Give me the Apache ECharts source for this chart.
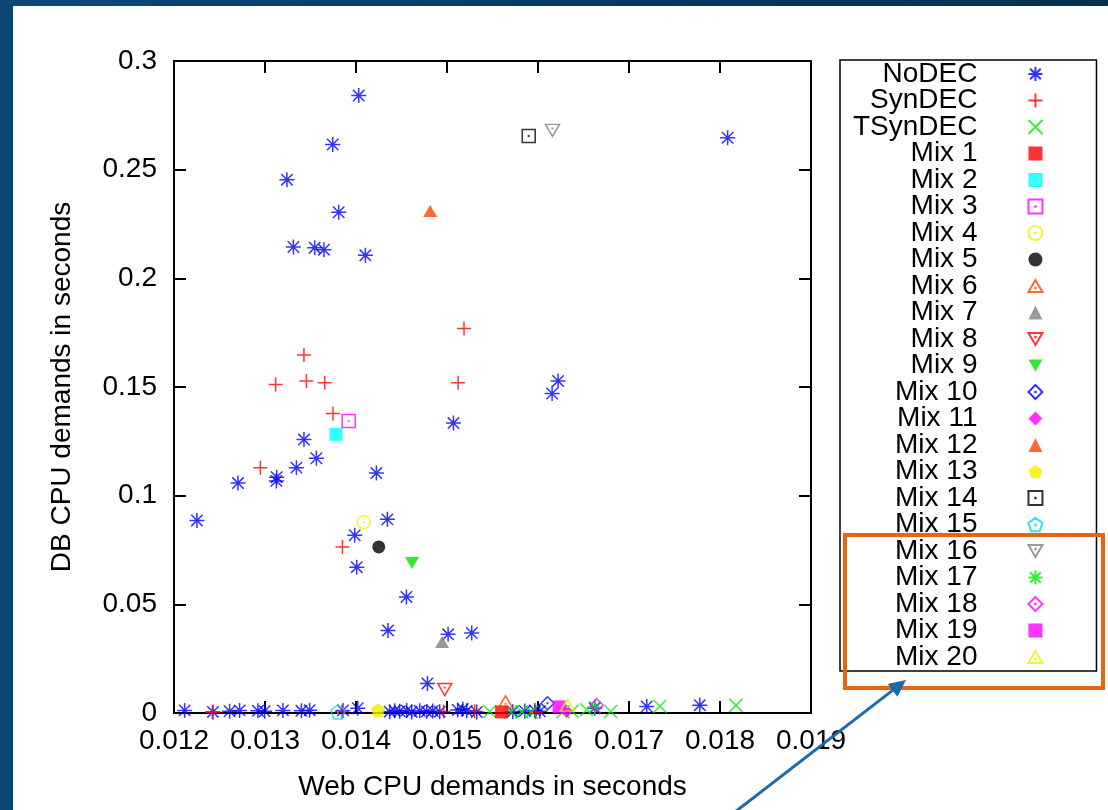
<!DOCTYPE html>
<html>
<head>
<meta charset="utf-8">
<title>Web CPU vs DB CPU demands</title>
<script src="https://cdn.jsdelivr.net/npm/echarts@6/dist/echarts.min.js"></script>
<style>
    html, body { margin: 0; padding: 0; }
    body {
        width: 1108px; height: 810px; position: relative; overflow: hidden;
        background: linear-gradient(90deg, #0d4874, #07375c 60%, #05304f);
    }
    #panel { position: absolute; left: 13px; top: 6px; right: 0; bottom: 0; background: #fff; }
    #main { position: absolute; left: 0; top: 0; width: 1108px; height: 810px; }
</style>
</head>
<body>
<div id="panel"></div>
<div id="main"></div>
<script>
    // [web cpu demand (s), db cpu demand (s)]
    var noDEC = [
        [0.012252, 0.0886], [0.012703, 0.1058], [0.013125, 0.1068], [0.013128, 0.1085],
        [0.013345, 0.1129], [0.013428, 0.1258], [0.013565, 0.1172], [0.014224, 0.1104],
        [0.014345, 0.0891], [0.013986, 0.0818], [0.014008, 0.0671], [0.014554, 0.0534],
        [0.014352, 0.0380], [0.015012, 0.0362], [0.015272, 0.0368], [0.014785, 0.0136],
        [0.015071, 0.1334], [0.014030, 0.2841], [0.013744, 0.2616], [0.013241, 0.2454],
        [0.013810, 0.2304], [0.013312, 0.2144], [0.013546, 0.2141], [0.013648, 0.2132],
        [0.014103, 0.2106], [0.018084, 0.2647], [0.016221, 0.1528], [0.016155, 0.1470],
        [0.012117, 0.0012], [0.012428, 0.0005], [0.012611, 0.0008], [0.012721, 0.0012],
        [0.012922, 0.0010], [0.012996, 0.0008], [0.013197, 0.0012], [0.013400, 0.0010],
        [0.013491, 0.0013], [0.013857, 0.0012], [0.014019, 0.0022], [0.014370, 0.0006],
        [0.014425, 0.0010], [0.014480, 0.0008], [0.014557, 0.0012], [0.014612, 0.0005],
        [0.014700, 0.0010], [0.014777, 0.0007], [0.014843, 0.0009], [0.014920, 0.0006],
        [0.015118, 0.0014], [0.015173, 0.0018], [0.015217, 0.0010], [0.015327, 0.0005],
        [0.015723, 0.0006], [0.015855, 0.0009], [0.015965, 0.0012], [0.016020, 0.0008],
        [0.016623, 0.0022], [0.017195, 0.0030], [0.017778, 0.0036]
    ];
    var synDEC = [
        [0.013117, 0.1512], [0.013455, 0.1528], [0.013656, 0.1520], [0.015122, 0.1520],
        [0.013747, 0.1378], [0.012949, 0.1129], [0.013851, 0.0764], [0.015187, 0.1769],
        [0.013428, 0.1647], [0.012422, 0.0004], [0.013847, 0.0007], [0.014963, 0.0007],
        [0.015304, 0.0008], [0.015975, 0.0004]
    ];
    var tsynDEC = [
        [0.015469, 0.0007], [0.015702, 0.0005], [0.015822, 0.0006], [0.015928, 0.0005],
        [0.016275, 0.0006], [0.016375, 0.0008], [0.016535, 0.0015], [0.016799, 0.0007],
        [0.017339, 0.0031], [0.018175, 0.0035]
    ];
    var mixes = [
        [[0.015600, 0.0005]],   // Mix 1
        [[0.013780, 0.1282]],   // Mix 2
        [[0.013920, 0.1344]],   // Mix 3
        [[0.014085, 0.0878]],   // Mix 4
        [[0.014250, 0.0764]],   // Mix 5
        [[0.015643, 0.0051]],   // Mix 6
        [[0.014946, 0.0327]],   // Mix 7
        [[0.014975, 0.0108]],   // Mix 8
        [[0.014616, 0.0690]],   // Mix 9
        [[0.016105, 0.0045]],   // Mix 10
        [[0.016313, 0.0008]],   // Mix 11
        [[0.014815, 0.2310]],   // Mix 12
        [[0.014242, 0.0013]],   // Mix 13
        [[0.015898, 0.2655]],   // Mix 14
        [[0.013802, 0.0005]],   // Mix 15
        [[0.016159, 0.2681]],   // Mix 16
        [[0.016625, 0.0028]],   // Mix 17
        [[0.016645, 0.0036]],   // Mix 18
        [[0.016232, 0.0028]],   // Mix 19
        [[0.016324, 0.0036]]    // Mix 20
    ];
    var seriesNames = ['NoDEC', 'SynDEC', 'TSynDEC'];
    for (var k = 1; k <= 20; k++) seriesNames.push('Mix ' + k);

    var xMin = 0.012, xMax = 0.019, xStep = 0.001;
    var yMin = 0, yMax = 0.3, yStep = 0.05;

    var FONT = '"Liberation Sans", Arial, sans-serif';
    var DOT = 'M4.85,4.85L5.15,4.85L5.15,5.15L4.85,5.15Z';
    var SYM = {
        star: 'path://M0,5L10,5M5,0L5,10M1.2,1.2L8.8,8.8M1.2,8.8L8.8,1.2',
        plus: 'path://M0,5L10,5M5,0L5,10',
        cross: 'path://M0,0L10,10M0,10L10,0',
        box: 'path://M0,0L10,0L10,10L0,10Z' + DOT,
        ring: 'path://M10,5A5,5,0,1,1,0,5A5,5,0,1,1,10,5Z' + DOT,
        tri: 'path://M5,0L10,8.66L0,8.66Z' + 'M4.85,5.6L5.15,5.6L5.15,5.9L4.85,5.9Z',
        dtri: 'path://M0,0L10,0L5,8.66Z' + 'M4.85,2.8L5.15,2.8L5.15,3.1L4.85,3.1Z',
        dtriFill: 'path://M0,0L10,0L5,8.66Z',
        dia: 'path://M5,0L10,5L5,10L0,5Z' + DOT,
        pent: 'path://M5,0L9.755,3.455L7.939,9.045L2.061,9.045L0.245,3.455Z',
        pentOpen: 'path://M5,0L9.755,3.455L7.939,9.045L2.061,9.045L0.245,3.455Z' + DOT
    };
    // symbol, size, colour, stroked?
    var looks = [
        [SYM.star, 15, '#0000ff', true],
        [SYM.plus, 14, '#ff0000', true],
        [SYM.cross, 13, '#00ee00', true],
        ['rect', 13, '#ff0000', false],
        ['rect', 13, '#00ffff', false],
        [SYM.box, 13, '#ff00ff', true],
        [SYM.ring, 13, '#f0f000', true],
        ['circle', 13, '#000000', false],
        [SYM.tri, [14, 12], '#ff4500', true],
        ['triangle', [14, 12], '#808080', false],
        [SYM.dtri, [14, 12], '#ff0000', true],
        [SYM.dtriFill, [14, 12], '#00e000', false],
        [SYM.dia, 13, '#0000ff', true],
        ['diamond', 13, '#ff00ff', false],
        ['triangle', [14, 12], '#ff4500', false],
        [SYM.pent, 14, '#f0f000', false],
        [SYM.box, 13, '#000000', true],
        [SYM.pentOpen, 14, '#00e0e0', true],
        [SYM.dtri, [14, 12], '#808080', true],
        [SYM.star, 15, '#00ee00', true],
        [SYM.dia, 13, '#ff00ff', true],
        ['rect', 13, '#ff00ff', false],
        [SYM.tri, [14, 12], '#f0f000', true]
    ];

    var allData = [noDEC, synDEC, tsynDEC].concat(mixes);
    var series = [], legendData = [];
    allData.forEach(function (d, i) {
        var lk = looks[i];
        series.push({
            name: seriesNames[i],
            type: 'scatter',
            data: d,
            symbol: lk[0],
            symbolSize: lk[1],
            itemStyle: lk[3]
                ? {color: 'rgba(0,0,0,0)', borderColor: lk[2], borderWidth: 1.5}
                : {color: lk[2], borderWidth: 0},
            emphasis: {disabled: true},
            animation: false
        });
        legendData.push({name: seriesNames[i], icon: lk[0]});
    });

    var frame = {show: true, onZero: false, lineStyle: {color: '#000', width: 2}};
    var ticks = {show: true, inside: true, length: 12, lineStyle: {color: '#000', width: 2}};

    // arrow pointing at the highlighted legend entries
    var a0 = [735, 812], a1 = [906, 680];
    var dx = a1[0] - a0[0], dy = a1[1] - a0[1], len = Math.sqrt(dx * dx + dy * dy);
    var ux = dx / len, uy = dy / len, hl = 17, hw = 8;
    var bx = a1[0] - ux * hl, by = a1[1] - uy * hl;

    var chart = echarts.init(document.getElementById('main'));
    chart.setOption({
        backgroundColor: 'transparent',
        textStyle: {fontFamily: FONT},
        grid: {left: 174, right: 297, top: 61, bottom: 97, containLabel: false, outerBoundsMode: 'none'},
        xAxis: [{
            type: 'value', min: xMin, max: xMax, interval: xStep, position: 'bottom',
            name: 'Web CPU demands in seconds', nameLocation: 'middle', nameGap: 60,
            nameTextStyle: {fontSize: 28, color: '#000', fontFamily: FONT},
            axisLine: frame, axisTick: ticks, splitLine: {show: false},
            axisLabel: {fontSize: 28, color: '#000', margin: 14, fontFamily: FONT,
                formatter: function (v) { return v.toFixed(3); }}
        }, {
            type: 'value', min: xMin, max: xMax, interval: xStep, position: 'top',
            axisLine: frame, axisTick: ticks, splitLine: {show: false}, axisLabel: {show: false}
        }],
        yAxis: [{
            type: 'value', min: yMin, max: yMax, interval: yStep, position: 'left',
            name: 'DB CPU demands in seconds', nameLocation: 'middle', nameGap: 98,
            nameTextStyle: {fontSize: 28, color: '#000', fontFamily: FONT},
            axisLine: frame, axisTick: ticks, splitLine: {show: false},
            axisLabel: {fontSize: 28, color: '#000', margin: 17, fontFamily: FONT}
        }, {
            type: 'value', min: yMin, max: yMax, interval: yStep, position: 'right',
            axisLine: frame, axisTick: ticks, splitLine: {show: false}, axisLabel: {show: false}
        }],
        legend: {
            data: legendData,
            orient: 'vertical', align: 'right',
            left: 840, top: 60,
            padding: [0, 53, 0, 13],
            itemGap: -1.5, itemWidth: 14, itemHeight: 14,
            borderColor: '#000', borderWidth: 1.5,
            selectedMode: false,
            textStyle: {fontSize: 28, color: '#000', fontFamily: FONT, padding: [0, 46, 0, 0]}
        },
        graphic: [{
            type: 'rect', z: 100,
            shape: {x: 845, y: 535, width: 258, height: 153},
            style: {fill: 'none', stroke: '#e8650f', lineWidth: 4}
        }, {
            type: 'line', z: 100,
            shape: {x1: a0[0], y1: a0[1], x2: bx, y2: by},
            style: {stroke: '#1d6aa8', lineWidth: 3}
        }, {
            type: 'polygon', z: 100,
            shape: {points: [a1, [bx + uy * hw, by - ux * hw], [bx - uy * hw, by + ux * hw]]},
            style: {fill: '#1d6aa8'}
        }],
        series: series
    });
</script>
</body>
</html>
